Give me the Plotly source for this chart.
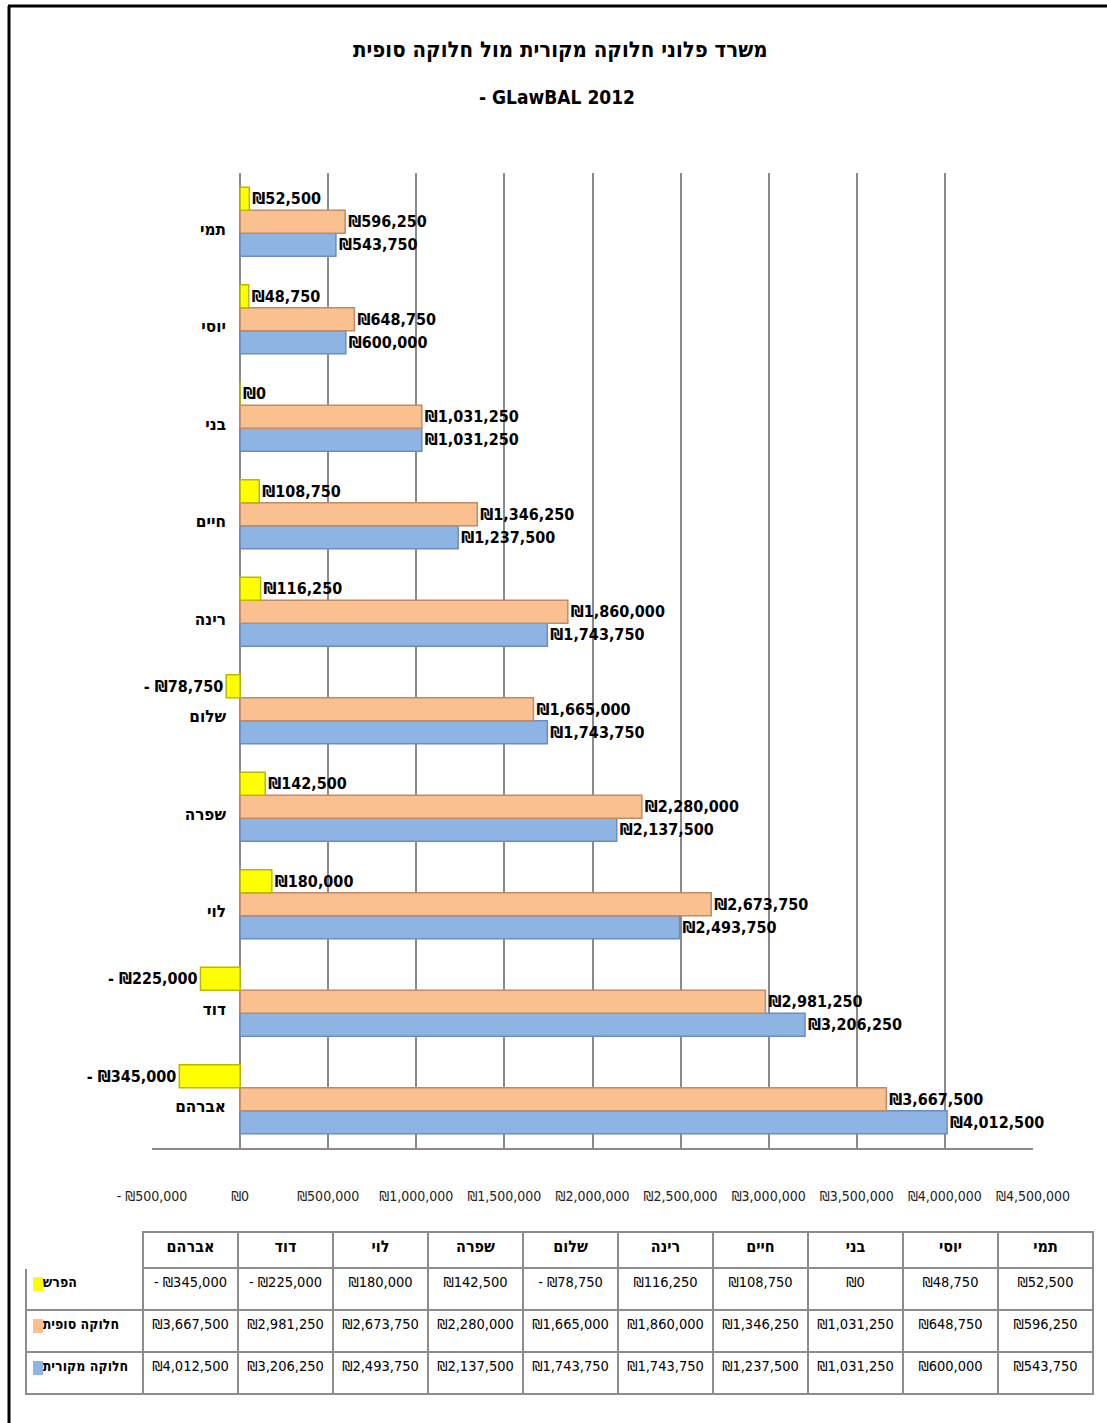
import plotly.graph_objects as go

# Names, in table order (first name sits at the bottom of the bar chart)
names = ["אברהם", "דוד", "לוי", "שפרה", "שלום", "רינה", "חיים", "בני", "יוסי", "תמי"]

# Series values (NIS)
original = [4012500, 3206250, 2493750, 2137500, 1743750, 1743750, 1237500, 1031250, 600000, 543750]
final = [3667500, 2981250, 2673750, 2280000, 1665000, 1860000, 1346250, 1031250, 648750, 596250]
difference = [-345000, -225000, 180000, 142500, -78750, 116250, 108750, 0, 48750, 52500]

series_names = ["חלוקה מקורית", "חלוקה סופית", "הפרש"]

x_ticks = [-500000, 0, 500000, 1000000, 1500000, 2000000, 2500000,
           3000000, 3500000, 4000000, 4500000]

title_line1 = "משרד פלוני חלוקה מקורית מול חלוקה סופית"
title_line2 = "- GLawBAL 2012"

W, H = 1107, 1423
FONT = "DejaVu Sans Condensed, DejaVu Sans, sans-serif"

BLUE, BLUE_EDGE = "#8DB4E2", "#6A8CC0"
ORANGE, ORANGE_EDGE = "#FAC090", "#BF8A66"
YELLOW, YELLOW_EDGE = "#FFFF00", "#B8B800"
NBSP = "\u00a0"


def shekel(v):
    return f"₪{v:,}" if v >= 0 else f"- ₪{abs(v):,}"


def px_x(p):
    return p / W


def px_y(p):
    return 1 - p / H


fig = go.Figure()

for vals, name, color, edge in [
    (original, series_names[0], BLUE, BLUE_EDGE),
    (final, series_names[1], ORANGE, ORANGE_EDGE),
    (difference, series_names[2], YELLOW, YELLOW_EDGE),
]:
    fig.add_trace(go.Bar(
        y=names, x=vals, orientation="h", name=name,
        marker=dict(color=color, line=dict(color=edge, width=1.5)),
        text=[shekel(v) for v in vals],
        textposition="outside",
        constraintext="none",
        cliponaxis=False,
        textfont=dict(family=FONT, size=16, color="#000000", weight="bold"),
        hoverinfo="skip",
    ))

# Data table under the chart; row captions sit just right of their colour keys
header_vals = [""] + names
cell_cols = [[NBSP * 2 + s.replace(" ", NBSP) for s in series_names[::-1]]]
for i in range(len(names)):
    cell_cols.append([shekel(difference[i]), shekel(final[i]), shekel(original[i])])

line_col = "#8C8C8C"
fig.add_trace(go.Table(
    domain=dict(x=[px_x(26), px_x(1093)], y=[px_y(1396), px_y(1232)]),
    columnwidth=[117] + [95] * len(names),
    header=dict(
        values=header_vals,
        height=36,
        align="center",
        fill=dict(color="white"),
        line=dict(color=["white"] + [line_col] * len(names), width=1.5),
        font=dict(family=FONT, size=16, color="#000000", weight="bold"),
    ),
    cells=dict(
        values=cell_cols,
        height=42,
        align=["left"] + ["center"] * len(names),
        fill=dict(color="white"),
        line=dict(color=line_col, width=1.5),
        font=dict(family=FONT, size=[14] + [14.5] * len(names), color="#000000",
                  weight=["bold"] + ["normal"] * len(names)),
    ),
))

fig.update_layout(
    width=W, height=H,
    margin=dict(l=0, r=0, t=0, b=0),
    paper_bgcolor="white", plot_bgcolor="white",
    barmode="group", bargap=0.29, bargroupgap=0,
    showlegend=False,
    font=dict(family=FONT, color="#000000"),
    xaxis=dict(
        domain=[px_x(152), px_x(1033)],
        range=[x_ticks[0], x_ticks[-1]],
        tickvals=x_ticks,
        ticktext=[shekel(v) for v in x_ticks],
        tickangle=0,
        tickfont=dict(family=FONT, size=14, color="#222222"),
        showgrid=True, gridcolor="#8A8A8A", gridwidth=1.5,
        zeroline=True, zerolinecolor="#8A8A8A", zerolinewidth=1.5,
        showline=True, linecolor="#8A8A8A", linewidth=1.5,
        ticks="", ticklabelstandoff=34,
        anchor="y", automargin=False,
    ),
    yaxis=dict(
        domain=[px_y(1148), px_y(173)],
        categoryorder="array", categoryarray=names,
        anchor="free", position=px_x(240),
        showgrid=False, zeroline=False, showline=False,
        ticks="", ticklabelstandoff=14, ticklabelshift=7,
        tickfont=dict(family=FONT, size=17, color="#000000", weight="bold"),
        automargin=False,
    ),
)

annotations = [
    dict(text=title_line1, x=px_x(560), y=px_y(50), xref="paper", yref="paper",
         showarrow=False, xanchor="center", yanchor="middle",
         font=dict(family=FONT, size=22, color="#000000", weight="bold")),
    dict(text=title_line2, x=px_x(557), y=px_y(97), xref="paper", yref="paper",
         showarrow=False, xanchor="center", yanchor="middle",
         font=dict(family=FONT, size=19, color="#000000", weight="bold")),
]
fig.update_layout(annotations=annotations)

# Frame lines and legend keys for the table rows
shapes = [
    dict(type="line", xref="paper", yref="paper", x0=px_x(8), x1=1, y0=px_y(6), y1=px_y(6),
         line=dict(color="#000000", width=3)),
    dict(type="line", xref="paper", yref="paper", x0=px_x(9), x1=px_x(9), y0=px_y(6), y1=0,
         line=dict(color="#000000", width=3)),
]
for color, yc in [(YELLOW, 1284), (ORANGE, 1326), (BLUE, 1368)]:
    shapes.append(dict(type="rect", xref="paper", yref="paper",
                       x0=px_x(33), x1=px_x(43), y0=px_y(yc + 7), y1=px_y(yc - 7),
                       fillcolor=color, line=dict(width=0)))
fig.update_layout(shapes=shapes)

fig.write_html("out.html")
